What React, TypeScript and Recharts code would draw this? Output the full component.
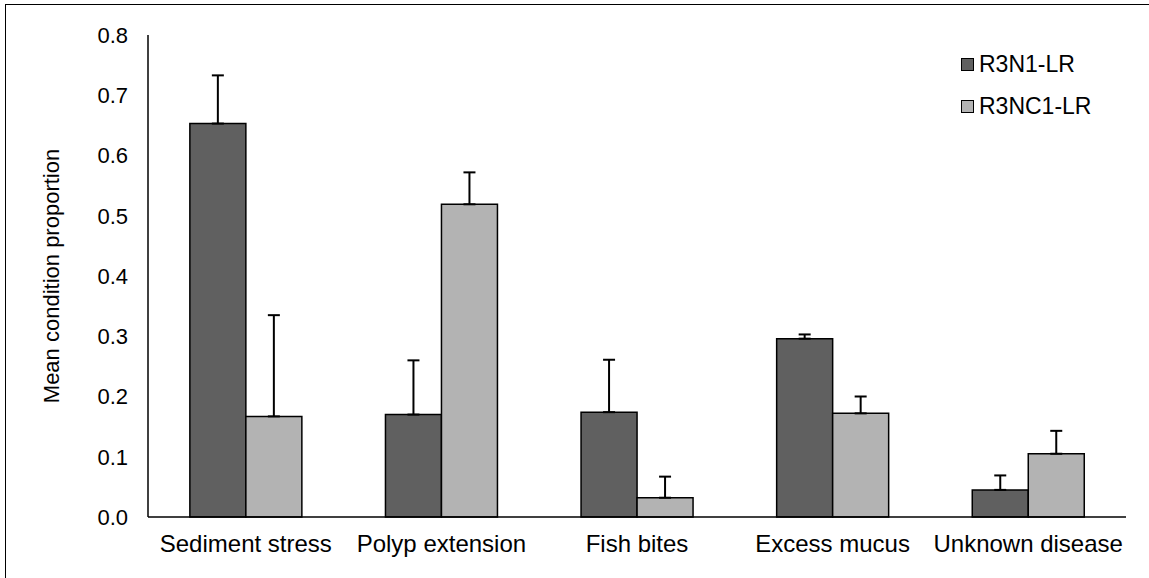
import { BarChart, Bar, XAxis, YAxis, Legend, ErrorBar } from 'recharts'

const categories = ['Sediment stress', 'Polyp extension', 'Fish bites', 'Excess mucus', 'Unknown disease']
const r3n1 = [0.653, 0.17, 0.174, 0.296, 0.045]
const r3n1Err = [0.08, 0.09, 0.087, 0.007, 0.024]
const r3nc1 = [0.167, 0.519, 0.032, 0.172, 0.105]
const r3nc1Err = [0.168, 0.053, 0.035, 0.028, 0.038]
const yTicks = [0, 0.1, 0.2, 0.3, 0.4, 0.5, 0.6, 0.7, 0.8]

const data = categories.map((name, i) => ({
  name,
  a: r3n1[i],
  aErr: [0, r3n1Err[i]],
  b: r3nc1[i],
  bErr: [0, r3nc1Err[i]],
}))

const FONT = '"Liberation Sans", Arial, sans-serif'

function LegendBox({ payload }: { payload?: Array<{ value: string; color: string }> }) {
  if (!payload) return null
  return (
    <div style={{ fontFamily: FONT }}>
      {payload.map((p) => (
        <div key={p.value} style={{ display: 'flex', alignItems: 'center', height: 42 }}>
          <span style={{ width: 11, height: 11, background: p.color, border: '1.5px solid #000', display: 'inline-block' }} />
          <span style={{ marginLeft: 5, fontSize: 23, color: '#000' }}>{p.value}</span>
        </div>
      ))}
    </div>
  )
}

export default function App() {
  return (
    <div style={{ position: 'absolute', left: 0, top: 0, width: 1149, height: 578, background: '#fff', overflow: 'hidden' }}>
      <div
        style={{
          position: 'absolute',
          left: 5,
          top: 4,
          width: 1200,
          height: 700,
          borderLeft: '1.5px solid #000',
          borderTop: '1.5px solid #000',
        }}
      />
      <div style={{ position: 'absolute', left: 0, top: 0 }}>
        <BarChart
          width={1149}
          height={578}
          data={data}
          margin={{ top: 35, right: 23, bottom: 31, left: 0 }}
          barCategoryGap="21.4%"
          barGap={0}
        >
          <XAxis
            dataKey="name"
            interval={0}
            height={30}
            axisLine={{ stroke: '#000', strokeWidth: 1.5 }}
            tickLine={false}
            tickMargin={12}
            tick={{ fill: '#000', fontSize: 24, fontFamily: FONT }}
          />
          <YAxis
            width={148}
            domain={[0, 0.8]}
            ticks={yTicks}
            tickFormatter={(v: number) => v.toFixed(1)}
            axisLine={{ stroke: '#000', strokeWidth: 1.5 }}
            tickLine={false}
            tickMargin={14}
            tick={{ fill: '#000', fontSize: 22, fontFamily: FONT }}
            label={{
              value: 'Mean condition proportion',
              angle: -90,
              position: 'insideLeft',
              dx: 46,
              style: { fill: '#000', fontSize: 22, fontFamily: FONT, textAnchor: 'middle' },
            }}
          />
          <Legend
            layout="vertical"
            verticalAlign="middle"
            align="center"
            content={<LegendBox />}
            wrapperStyle={{ top: 43, left: 961, width: 200, height: 84 }}
          />
          <Bar dataKey="a" name="R3N1-LR" fill="#606060" stroke="#000" strokeWidth={1.5} isAnimationActive={false}>
            <ErrorBar dataKey="aErr" direction="y" width={6} stroke="#000" strokeWidth={2} />
          </Bar>
          <Bar dataKey="b" name="R3NC1-LR" fill="#b3b3b3" stroke="#000" strokeWidth={1.5} isAnimationActive={false}>
            <ErrorBar dataKey="bErr" direction="y" width={6} stroke="#000" strokeWidth={2} />
          </Bar>
        </BarChart>
      </div>
    </div>
  )
}
